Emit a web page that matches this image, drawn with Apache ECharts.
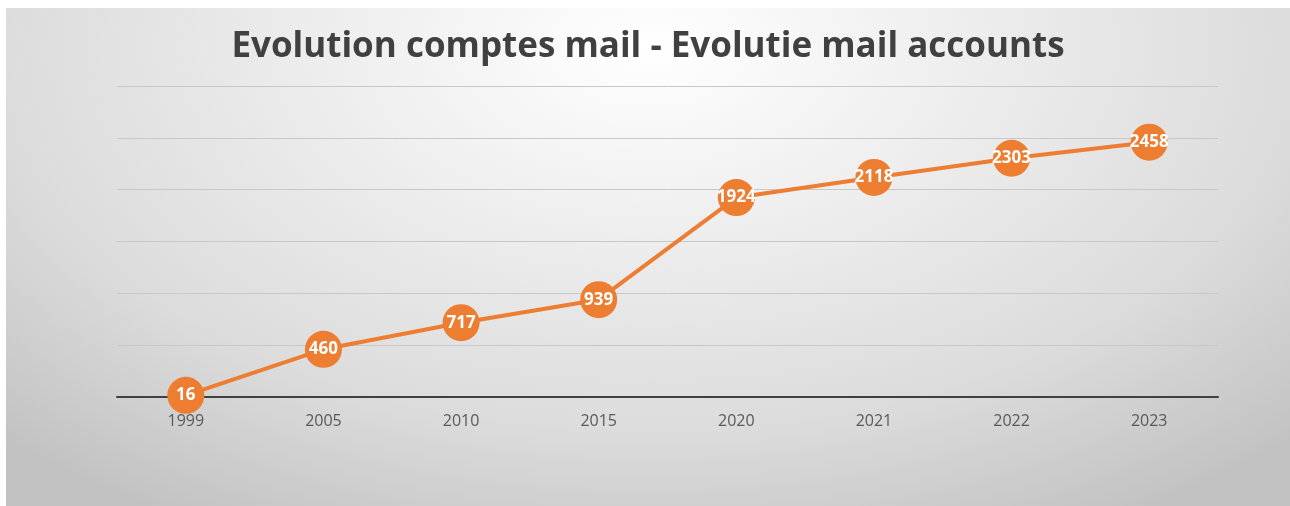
<!DOCTYPE html>
<html>
<head>
<meta charset="utf-8">
<script src="https://cdn.jsdelivr.net/npm/echarts@6/dist/echarts.min.js"></script>
<style>
html,body{margin:0;padding:0;background:#ffffff;}
#chart{position:absolute;left:6px;top:8px;width:1284px;height:498px;
  background: radial-gradient(ellipse 72% 110% at 50% 8%, #ffffff 0%, #f0f0f0 30%, #dcdcdc 70%, #c2c2c2 100%);}
</style>
</head>
<body>
<div id="chart"></div>
<script>
var titleText = 'Evolution comptes mail - Evolutie mail accounts';
var years = ['1999', '2005', '2010', '2015', '2020', '2021', '2022', '2023'];
var accounts = [16, 460, 717, 939, 1924, 2118, 2303, 2458];
var yMin = 0, yMax = 3000, yStep = 500;

var chart = echarts.init(document.getElementById('chart'));
chart.setOption({
  backgroundColor: 'transparent',
  title: {
    text: titleText,
    left: 'center',
    top: 17,
    textStyle: {fontFamily: 'Open Sans', fontWeight: 'bold', fontSize: 35, color: '#404040'}
  },
  grid: {left: 111, right: 72, top: 78, bottom: 109},
  xAxis: {
    type: 'category',
    data: years,
    boundaryGap: true,
    axisLine: {lineStyle: {color: '#404040', width: 2}},
    axisTick: {show: false},
    axisLabel: {color: '#595959', fontSize: 16, margin: 16, fontFamily: 'Open Sans'}
  },
  yAxis: {
    type: 'value',
    min: yMin, max: yMax, interval: yStep,
    axisLabel: {show: false},
    axisLine: {show: false},
    axisTick: {show: false},
    splitLine: {lineStyle: {color: '#c8c8c8', width: 1}}
  },
  series: [{
    type: 'line',
    data: accounts,
    symbol: 'circle',
    symbolSize: 37,
    itemStyle: {color: '#ED7D31'},
    lineStyle: {color: '#ED7D31', width: 4},
    z: 3,
    label: {
      show: true,
      position: 'inside',
      color: '#ffffff',
      fontWeight: 'bold',
      fontSize: 17,
      fontFamily: 'Open Sans'
    }
  }],
  animation: false
});
</script>
</body>
</html>
